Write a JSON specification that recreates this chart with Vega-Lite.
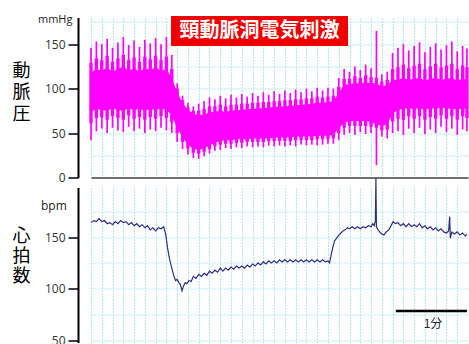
{
  "$schema": "https://vega.github.io/schema/vega-lite/v6.json",
  "padding": {"left": 12, "top": 13.5, "right": 0, "bottom": 0},
  "bounds": "flush",
  "spacing": 10,
  "config": {
    "view": {"stroke": null},
    "axis": {
      "gridColor": "#b3e7f0",
      "gridDash": [2, 1],
      "gridWidth": 1,
      "domainColor": "#000",
      "tickColor": "#000",
      "labelFont": "Open Sans",
      "labelFontSize": 12,
      "labelColor": "#333"
    }
  },
  "datasets": {
    "bp": [
      {"t":0,"sys":146,"dia":42,"hi":118,"lo":74,"ut":129,"lt":61},
      {"t":5,"sys":153,"dia":52,"hi":122,"lo":77,"ut":134,"lt":67},
      {"t":10,"sys":150,"dia":55,"hi":120,"lo":76,"ut":132,"lt":68},
      {"t":15,"sys":156,"dia":50,"hi":124,"lo":75,"ut":137,"lt":65},
      {"t":20,"sys":146,"dia":56,"hi":119,"lo":78,"ut":130,"lt":69},
      {"t":25,"sys":152,"dia":53,"hi":122,"lo":76,"ut":134,"lt":67},
      {"t":30,"sys":158,"dia":51,"hi":125,"lo":75,"ut":138,"lt":65},
      {"t":35,"sys":149,"dia":57,"hi":120,"lo":78,"ut":132,"lt":70},
      {"t":40,"sys":154,"dia":52,"hi":123,"lo":76,"ut":135,"lt":66},
      {"t":45,"sys":147,"dia":55,"hi":119,"lo":77,"ut":130,"lt":68},
      {"t":50,"sys":155,"dia":50,"hi":123,"lo":75,"ut":136,"lt":65},
      {"t":55,"sys":151,"dia":54,"hi":121,"lo":77,"ut":133,"lt":68},
      {"t":60,"sys":157,"dia":52,"hi":124,"lo":76,"ut":137,"lt":66},
      {"t":65,"sys":150,"dia":56,"hi":120,"lo":78,"ut":132,"lt":69},
      {"t":70,"sys":158,"dia":53,"hi":122,"lo":76,"ut":136,"lt":67},
      {"t":75,"sys":138,"dia":50,"hi":112,"lo":70,"ut":122,"lt":62},
      {"t":80,"sys":106,"dia":40,"hi":96,"lo":56,"ut":100,"lt":50},
      {"t":85,"sys":92,"dia":32,"hi":84,"lo":45,"ut":87,"lt":40},
      {"t":90,"sys":84,"dia":26,"hi":76,"lo":37,"ut":79,"lt":33},
      {"t":95,"sys":80,"dia":22,"hi":72,"lo":32,"ut":75,"lt":28},
      {"t":100,"sys":83,"dia":21,"hi":70,"lo":31,"ut":75,"lt":27},
      {"t":105,"sys":86,"dia":24,"hi":71,"lo":33,"ut":77,"lt":29},
      {"t":110,"sys":90,"dia":27,"hi":73,"lo":36,"ut":80,"lt":32},
      {"t":115,"sys":88,"dia":30,"hi":74,"lo":39,"ut":80,"lt":35},
      {"t":120,"sys":92,"dia":31,"hi":75,"lo":41,"ut":82,"lt":37},
      {"t":125,"sys":89,"dia":33,"hi":74,"lo":42,"ut":80,"lt":38},
      {"t":130,"sys":93,"dia":32,"hi":75,"lo":42,"ut":82,"lt":38},
      {"t":135,"sys":90,"dia":34,"hi":76,"lo":43,"ut":82,"lt":39},
      {"t":140,"sys":94,"dia":33,"hi":76,"lo":43,"ut":83,"lt":39},
      {"t":145,"sys":91,"dia":35,"hi":77,"lo":43,"ut":83,"lt":40},
      {"t":150,"sys":95,"dia":34,"hi":77,"lo":44,"ut":84,"lt":40},
      {"t":155,"sys":92,"dia":35,"hi":78,"lo":44,"ut":84,"lt":40},
      {"t":160,"sys":96,"dia":34,"hi":78,"lo":44,"ut":85,"lt":40},
      {"t":165,"sys":93,"dia":36,"hi":79,"lo":44,"ut":85,"lt":41},
      {"t":170,"sys":97,"dia":35,"hi":79,"lo":45,"ut":86,"lt":41},
      {"t":175,"sys":94,"dia":36,"hi":80,"lo":45,"ut":86,"lt":41},
      {"t":180,"sys":98,"dia":35,"hi":80,"lo":45,"ut":87,"lt":41},
      {"t":185,"sys":95,"dia":36,"hi":81,"lo":45,"ut":87,"lt":41},
      {"t":190,"sys":99,"dia":35,"hi":81,"lo":46,"ut":88,"lt":42},
      {"t":195,"sys":96,"dia":37,"hi":82,"lo":46,"ut":88,"lt":42},
      {"t":200,"sys":100,"dia":36,"hi":82,"lo":46,"ut":89,"lt":42},
      {"t":205,"sys":97,"dia":37,"hi":83,"lo":46,"ut":89,"lt":42},
      {"t":210,"sys":101,"dia":36,"hi":84,"lo":47,"ut":91,"lt":43},
      {"t":215,"sys":98,"dia":37,"hi":84,"lo":47,"ut":90,"lt":43},
      {"t":220,"sys":101,"dia":38,"hi":85,"lo":47,"ut":91,"lt":43},
      {"t":225,"sys":100,"dia":38,"hi":86,"lo":48,"ut":92,"lt":44},
      {"t":230,"sys":112,"dia":42,"hi":95,"lo":55,"ut":102,"lt":50},
      {"t":235,"sys":122,"dia":48,"hi":104,"lo":62,"ut":111,"lt":56},
      {"t":240,"sys":119,"dia":50,"hi":105,"lo":63,"ut":111,"lt":58},
      {"t":245,"sys":125,"dia":48,"hi":106,"lo":64,"ut":114,"lt":58},
      {"t":250,"sys":121,"dia":51,"hi":106,"lo":63,"ut":112,"lt":58},
      {"t":255,"sys":127,"dia":49,"hi":107,"lo":64,"ut":115,"lt":58},
      {"t":260,"sys":123,"dia":50,"hi":106,"lo":62,"ut":113,"lt":57},
      {"t":265,"sys":165,"dia":14,"hi":106,"lo":60,"ut":112,"lt":56},
      {"t":270,"sys":116,"dia":46,"hi":102,"lo":58,"ut":108,"lt":53},
      {"t":275,"sys":119,"dia":44,"hi":104,"lo":60,"ut":110,"lt":54},
      {"t":280,"sys":140,"dia":50,"hi":110,"lo":72,"ut":122,"lt":63},
      {"t":285,"sys":146,"dia":52,"hi":110,"lo":76,"ut":124,"lt":66},
      {"t":290,"sys":150,"dia":48,"hi":112,"lo":77,"ut":127,"lt":65},
      {"t":295,"sys":143,"dia":55,"hi":110,"lo":78,"ut":123,"lt":69},
      {"t":300,"sys":148,"dia":50,"hi":111,"lo":77,"ut":126,"lt":66},
      {"t":305,"sys":152,"dia":56,"hi":112,"lo":78,"ut":128,"lt":69},
      {"t":310,"sys":141,"dia":49,"hi":109,"lo":76,"ut":122,"lt":65},
      {"t":315,"sys":147,"dia":54,"hi":111,"lo":78,"ut":125,"lt":68},
      {"t":320,"sys":151,"dia":50,"hi":112,"lo":77,"ut":128,"lt":66},
      {"t":325,"sys":144,"dia":57,"hi":110,"lo":79,"ut":124,"lt":70},
      {"t":330,"sys":149,"dia":51,"hi":111,"lo":77,"ut":126,"lt":66},
      {"t":335,"sys":153,"dia":55,"hi":112,"lo":78,"ut":128,"lt":69},
      {"t":340,"sys":142,"dia":48,"hi":109,"lo":76,"ut":122,"lt":65},
      {"t":345,"sys":148,"dia":54,"hi":111,"lo":78,"ut":126,"lt":69},
      {"t":349,"sys":145,"dia":52,"hi":110,"lo":77,"ut":124,"lt":67}
    ],
    "hr": [
      {"t":0,"hr":164},{"t":2.5,"hr":166},{"t":5,"hr":165},{"t":7.5,"hr":168},{"t":10,"hr":165},
      {"t":12.5,"hr":166},{"t":15,"hr":163},{"t":17.5,"hr":164},{"t":20,"hr":162},{"t":22.5,"hr":165},
      {"t":25,"hr":163},{"t":27.5,"hr":166},{"t":30,"hr":164},{"t":32.5,"hr":165},{"t":35,"hr":162},
      {"t":37.5,"hr":164},{"t":40,"hr":161},{"t":42.5,"hr":163},{"t":45,"hr":160},{"t":47.5,"hr":162},
      {"t":50,"hr":159},{"t":52.5,"hr":161},{"t":55,"hr":157},{"t":57.5,"hr":159},{"t":60,"hr":156},
      {"t":62.5,"hr":159},{"t":65,"hr":158},{"t":67.5,"hr":160},{"t":69.5,"hr":152},{"t":71,"hr":140},
      {"t":72.5,"hr":131},{"t":74,"hr":124},{"t":75.5,"hr":118},{"t":77,"hr":112},{"t":78.5,"hr":108},
      {"t":80,"hr":109},{"t":81.5,"hr":106},{"t":83,"hr":104},{"t":84.5,"hr":98},{"t":86,"hr":103},
      {"t":87.5,"hr":106},{"t":89,"hr":105},{"t":91,"hr":108},{"t":93,"hr":107},{"t":95,"hr":112},
      {"t":97.5,"hr":110},{"t":100,"hr":114},{"t":102.5,"hr":112},{"t":105,"hr":115},{"t":107.5,"hr":113},
      {"t":110,"hr":117},{"t":112.5,"hr":115},{"t":115,"hr":118},{"t":117.5,"hr":116},{"t":120,"hr":120},
      {"t":122.5,"hr":117},{"t":125,"hr":120},{"t":127.5,"hr":118},{"t":130,"hr":121},{"t":132.5,"hr":119},
      {"t":135,"hr":122},{"t":137.5,"hr":120},{"t":140,"hr":122},{"t":142.5,"hr":120},{"t":145,"hr":123},
      {"t":147.5,"hr":121},{"t":150,"hr":124},{"t":152.5,"hr":122},{"t":155,"hr":125},{"t":157.5,"hr":123},
      {"t":160,"hr":126},{"t":162.5,"hr":124},{"t":165,"hr":127},{"t":167.5,"hr":125},{"t":170,"hr":127},
      {"t":172.5,"hr":125},{"t":175,"hr":128},{"t":177.5,"hr":126},{"t":180,"hr":128},{"t":182.5,"hr":126},
      {"t":185,"hr":128},{"t":187.5,"hr":126},{"t":190,"hr":128},{"t":192.5,"hr":126},{"t":195,"hr":128},
      {"t":197.5,"hr":126},{"t":200,"hr":128},{"t":202.5,"hr":126},{"t":205,"hr":128},{"t":207.5,"hr":126},
      {"t":210,"hr":128},{"t":212.5,"hr":126},{"t":215,"hr":128},{"t":217.5,"hr":126},{"t":220,"hr":127},
      {"t":221.5,"hr":125},{"t":223,"hr":133},{"t":224.5,"hr":140},{"t":226,"hr":146},{"t":228,"hr":149},
      {"t":230,"hr":152},{"t":232,"hr":154},{"t":234,"hr":156},{"t":236,"hr":157},{"t":238,"hr":159},
      {"t":240,"hr":158},{"t":242.5,"hr":160},{"t":245,"hr":158},{"t":247.5,"hr":160},{"t":250,"hr":158},
      {"t":252.5,"hr":160},{"t":255,"hr":159},{"t":257.5,"hr":161},{"t":260,"hr":160},{"t":261.5,"hr":163},
      {"t":263,"hr":161},{"t":264,"hr":166},{"t":264.5,"hr":207},{"t":265,"hr":160},{"t":266.5,"hr":157},
      {"t":268,"hr":155},{"t":270,"hr":153},{"t":272,"hr":152},{"t":274,"hr":155},{"t":276.5,"hr":157},
      {"t":278.5,"hr":161},{"t":280.5,"hr":165},{"t":282.5,"hr":163},{"t":285,"hr":164},{"t":287.5,"hr":161},
      {"t":290,"hr":163},{"t":292.5,"hr":160},{"t":295,"hr":163},{"t":297.5,"hr":160},{"t":300,"hr":162},
      {"t":302.5,"hr":160},{"t":305,"hr":163},{"t":307.5,"hr":159},{"t":310,"hr":161},{"t":312.5,"hr":158},
      {"t":315,"hr":160},{"t":317.5,"hr":157},{"t":320,"hr":159},{"t":322.5,"hr":156},{"t":325,"hr":158},
      {"t":327.5,"hr":155},{"t":330,"hr":154},{"t":332,"hr":156},{"t":333,"hr":170},{"t":333.6,"hr":149},
      {"t":335,"hr":155},{"t":337.5,"hr":153},{"t":340,"hr":155},{"t":342.5,"hr":152},{"t":345,"hr":154},
      {"t":347.5,"hr":151},{"t":349,"hr":153}
    ]
  },
  "vconcat": [
    {
      "width": 377,
      "height": 160,
      "title": {"text": "mmHg", "anchor": "start", "frame": "group", "orient": "top", "dx": -53, "dy": 18, "offset": 0, "baseline": "alphabetic", "fontSize": 11, "fontWeight": "normal", "font": "Open Sans", "color": "#222"},
      "layer": [
        {
          "data": {"name": "bp"},
          "mark": {"type": "area", "color": "#ff00ff", "opacity": 1},
          "encoding": {
            "x": {"field": "t", "type": "quantitative", "scale": {"domain": [0, 350], "nice": false},
              "axis": {"values": [0,10,20,30,40,50,60,70,80,90,100,110,120,130,140,150,160,170,180,190,200,210,220,230,240,250,260,270,280,290,300,310,320,330,340],
                "tickCount": 50, "labels": false, "ticks": false, "domain": true, "domainColor": "#444", "domainWidth": 1.5, "grid": true, "title": null}},
            "y": {"field": "lo", "type": "quantitative", "scale": {"domain": [0, 180], "nice": false},
              "axis": {"values": [0,25,50,75,100,125,150,175], "tickCount": 20, "grid": true, "offset": 13,
                "labelExpr": "datum.value % 50 === 0 ? datum.label : ''",
                "tickOpacity": {"condition": {"test": "datum.value % 50 === 0", "value": 1}, "value": 0},
                "tickSize": 10, "tickWidth": 1.5, "domainWidth": 2, "labelPadding": 3,
                "title": ["動", "脈", "圧"], "titleAngle": 0, "titleAlign": "center", "titleBaseline": "top",
                "titleX": -57, "titleY": 44.5, "titleFont": "Noto Sans CJK JP", "titleFontSize": 18,
                "titleFontWeight": "normal", "titleLineHeight": 21.5, "titleColor": "#000"}},
            "y2": {"field": "hi"}
          }
        },
        {
          "data": {"name": "bp"},
          "mark": {"type": "rule", "color": "#ff00ff", "strokeWidth": 3.4},
          "encoding": {
            "x": {"field": "t", "type": "quantitative"},
            "y": {"field": "lt", "type": "quantitative"},
            "y2": {"field": "ut"}
          }
        },
        {
          "data": {"name": "bp"},
          "mark": {"type": "rule", "color": "#ff00ff", "strokeWidth": 1.7},
          "encoding": {
            "x": {"field": "t", "type": "quantitative"},
            "y": {"field": "dia", "type": "quantitative"},
            "y2": {"field": "sys"}
          }
        },
        {
          "data": {"values": [{"label": "頸動脈洞電気刺激"}]},
          "mark": {"type": "rect", "color": "#f00000"},
          "encoding": {
            "x": {"datum": 74.3, "type": "quantitative"},
            "x2": {"datum": 238.6},
            "y": {"datum": 181.7, "type": "quantitative"},
            "y2": {"datum": 148}
          }
        },
        {
          "data": {"values": [{"label": "頸動脈洞電気刺激"}]},
          "mark": {"type": "text", "color": "#ffffff", "font": "Noto Sans CJK JP", "fontSize": 20, "fontWeight": "bold", "align": "center", "baseline": "middle"},
          "encoding": {
            "x": {"datum": 156.5, "type": "quantitative"},
            "y": {"datum": 165, "type": "quantitative"},
            "text": {"field": "label"}
          }
        }
      ]
    },
    {
      "width": 377,
      "height": 155,
      "title": {"text": "bpm", "anchor": "start", "frame": "group", "orient": "top", "dx": -50, "dy": 46, "offset": 0, "baseline": "alphabetic", "fontSize": 12, "fontWeight": "normal", "font": "Open Sans", "color": "#222"},
      "layer": [
        {
          "data": {"name": "hr"},
          "mark": {"type": "line", "color": "#2d2d85", "strokeWidth": 1.2},
          "encoding": {
            "x": {"field": "t", "type": "quantitative", "scale": {"domain": [0, 350], "nice": false},
              "axis": {"values": [0,10,20,30,40,50,60,70,80,90,100,110,120,130,140,150,160,170,180,190,200,210,220,230,240,250,260,270,280,290,300,310,320,330,340],
                "tickCount": 50, "labels": false, "ticks": false, "domain": false, "grid": true, "title": null}},
            "y": {"field": "hr", "type": "quantitative", "scale": {"domain": [48, 198], "nice": false},
              "axis": {"values": [50,75,100,125,150,175], "tickCount": 20, "grid": true, "offset": 13,
                "labelExpr": "datum.value % 50 === 0 ? datum.label : ''",
                "tickOpacity": {"condition": {"test": "datum.value % 50 === 0", "value": 1}, "value": 0},
                "tickSize": 10, "tickWidth": 1.5, "domainWidth": 2, "labelPadding": 3,
                "title": ["心", "拍", "数"], "titleAngle": 0, "titleAlign": "center", "titleBaseline": "top",
                "titleX": -57, "titleY": 39.5, "titleFont": "Noto Sans CJK JP", "titleFontSize": 18,
                "titleFontWeight": "normal", "titleLineHeight": 20, "titleColor": "#000"}}
          }
        },
        {
          "data": {"values": [{"label": "1分"}]},
          "mark": {"type": "rule", "color": "#000", "strokeWidth": 2.5},
          "encoding": {
            "x": {"datum": 283, "type": "quantitative"},
            "x2": {"datum": 349},
            "y": {"datum": 78.5, "type": "quantitative"}
          }
        },
        {
          "data": {"values": [{"label": "1分"}]},
          "mark": {"type": "text", "color": "#222", "font": "Noto Sans CJK JP", "fontSize": 12, "align": "center", "baseline": "middle"},
          "encoding": {
            "x": {"datum": 317.5, "type": "quantitative"},
            "y": {"datum": 66, "type": "quantitative"},
            "text": {"field": "label"}
          }
        }
      ]
    }
  ]
}
